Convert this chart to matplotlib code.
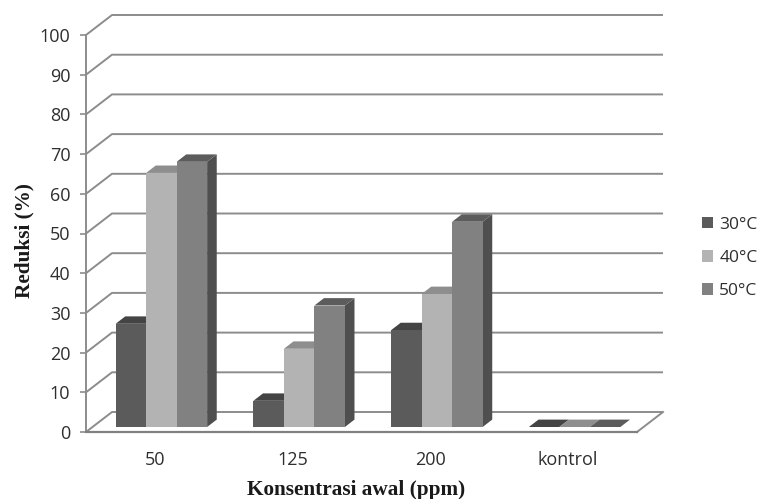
import matplotlib
matplotlib.use("Agg")
import matplotlib.pyplot as plt
from matplotlib.patches import Polygon, Patch

categories = ["50", "125", "200", "kontrol"]
series_names = ["30°C", "40°C", "50°C"]
vals_30 = [26.0, 6.6, 24.4, 0.0]
vals_40 = [64.0, 19.7, 33.5, 0.0]
vals_50 = [66.8, 30.6, 51.7, 0.0]
y_ticks = [0, 10, 20, 30, 40, 50, 60, 70, 80, 90, 100]

series = [vals_30, vals_40, vals_50]
front_cols = ["#5b5b5b", "#b3b3b3", "#818181"]
top_cols = ["#444444", "#8e8e8e", "#5c5c5c"]
side_cols = ["#404040", "#7a7a7a", "#4f4f4f"]

plt.rcParams['font.family'] = ['Open Sans', 'DejaVu Sans']
txt_col = "#2e2e2e"

fig = plt.figure(figsize=(7.58, 4.99), dpi=100)
ax = fig.add_axes([86/758, (499-432)/499, 551/758, 397/499])
ax.set_xlim(0, len(categories))
ax.set_ylim(0, 100)

# depth in data units
DX = 26/137.75
DY = 20/3.97

grid_col = "#8c8c8c"
for v in y_ticks:
    ax.plot([0, DX, len(categories)+DX], [v, v+DY, v+DY], color=grid_col, lw=1.4,
            clip_on=False, zorder=1, solid_capstyle='butt')
# floor right edge
ax.plot([len(categories), len(categories)+DX], [0, DY], color=grid_col, lw=1.4, clip_on=False, zorder=1)

# bars
d0, d1 = 0.25, 0.62
bw = 0.2214
z = 3
for i, cat in enumerate(categories):
    gx0 = i + 0.5 - 1.5*bw + d0*DX
    base = d0*DY
    ddx = (d1-d0)*DX
    ddy = (d1-d0)*DY
    for s in range(3):
        v = series[s][i]
        x0 = gx0 + s*bw
        x1 = x0 + bw
        top = base + v
        side = Polygon([(x1, base), (x1+ddx, base+ddy), (x1+ddx, top+ddy), (x1, top)],
                       closed=True, facecolor=side_cols[s], edgecolor='none', zorder=z, clip_on=False)
        topf = Polygon([(x0, top), (x1, top), (x1+ddx, top+ddy), (x0+ddx, top+ddy)],
                       closed=True, facecolor=top_cols[s], edgecolor='none', zorder=z+0.1, clip_on=False)
        ax.add_patch(side)
        ax.add_patch(topf)
        if v > 0:
            ax.bar([x0], [v], width=bw, bottom=base, align='edge', color=front_cols[s],
                   zorder=z+0.2, clip_on=False, linewidth=0)
        z += 1

for sp in ['top', 'right']:
    ax.spines[sp].set_visible(False)
ax.spines['left'].set_color("#8c8c8c")
ax.spines['left'].set_linewidth(1.4)
ax.spines['bottom'].set_color("#808080")
ax.spines['bottom'].set_linewidth(1.6)
ax.spines['bottom'].set_zorder(50)

ax.set_yticks(y_ticks)
ax.set_yticklabels([str(t) for t in y_ticks], fontsize=13, color=txt_col)
ax.tick_params(axis='y', length=4.3, width=1.2, color="#8c8c8c", pad=7)
ax.set_xticks([i + 0.5 for i in range(len(categories))])
ax.set_xticklabels(categories, fontsize=13, color=txt_col)
ax.tick_params(axis='x', length=0, pad=14)
ax.patch.set_alpha(0)

handles = [Patch(facecolor=front_cols[s], edgecolor='none') for s in range(3)]
fig.legend(handles, series_names, loc='center left', bbox_to_anchor=(702/758, (499-258)/499),
           frameon=False, fontsize=12.5, handlelength=0.65, handleheight=0.65,
           handletextpad=0.35, labelspacing=1.0, borderpad=0, borderaxespad=0,
           labelcolor=txt_col)

fig.text(24/758, (499-241)/499, "Reduksi (%)", rotation=90, ha='center', va='center',
         family='Liberation Serif', fontweight='bold', fontsize=15.3, color="#1a1a1a")
fig.text(356/758, (499-490)/499, "Konsentrasi awal (ppm)", ha='center', va='center',
         family='Liberation Serif', fontweight='bold', fontsize=15.3, color="#1a1a1a")

fig.savefig("out.png", dpi=100)
